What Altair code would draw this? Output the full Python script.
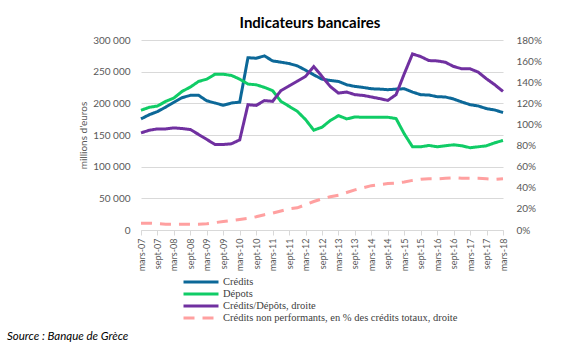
import altair as alt
import pandas as pd

quarters = [
    "mars-07", "juin-07", "sept-07", "déc-07",
    "mars-08", "juin-08", "sept-08", "déc-08",
    "mars-09", "juin-09", "sept-09", "déc-09",
    "mars-10", "juin-10", "sept-10", "déc-10",
    "mars-11", "juin-11", "sept-11", "déc-11",
    "mars-12", "juin-12", "sept-12", "déc-12",
    "mars-13", "juin-13", "sept-13", "déc-13",
    "mars-14", "juin-14", "sept-14", "déc-14",
    "mars-15", "juin-15", "sept-15", "déc-15",
    "mars-16", "juin-16", "sept-16", "déc-16",
    "mars-17", "juin-17", "sept-17", "déc-17",
    "mars-18",
]
tick_labels = [q for q in quarters if q.startswith("mars") or q.startswith("sept")]

# millions d'euros
credits = [175400, 182000, 187000, 194000, 201600, 209000, 212600, 212600,
           204000, 200500, 197000, 200500, 202000, 272000, 271200, 274900,
           267000, 265000, 262800, 259200, 252400, 245000, 238200, 236100,
           234600, 229300, 226700, 225100, 223000, 222500, 221500, 222500,
           223000, 217800, 213600, 213100, 210500, 210000, 206800, 202100,
           197900, 195800, 191600, 189500, 185400]
depots = [189000, 193700, 195800, 203000, 208400, 218900, 225700, 234600,
          238200, 246000, 246000, 244000, 238200, 230400, 229300, 225200,
          220000, 203200, 195300, 187400, 174400, 157600, 162300, 172800,
          180600, 175400, 178500, 178000, 178000, 178000, 178000, 176000,
          151800, 131400, 131400, 133500, 131400, 133000, 134500, 133000,
          129900, 131400, 133000, 137700, 141400]
# %
ratio = [92.0, 94.5, 95.8, 95.8, 96.7, 96.1, 95.2, 90.5,
         85.8, 81.0, 81.0, 81.7, 85.4, 118.7, 118.0, 122.6,
         121.9, 132.0, 136.5, 141.0, 145.5, 154.9, 145.5, 136.0,
         129.7, 130.7, 128.2, 127.5, 126.0, 124.5, 122.8, 128.2,
         148.0, 166.8, 164.3, 160.5, 160.2, 158.9, 154.9, 152.7,
         152.7, 149.5, 143.2, 137.6, 131.3]
npl = [6.5, 6.5, 6.0, 5.5, 5.5, 5.5, 5.5, 5.5,
       6.0, 7.0, 8.0, 9.0, 10.0, 11.0, 12.5, 14.5,
       16.0, 18.0, 20.0, 21.0, 24.0, 27.0, 29.5, 31.5,
       33.0, 35.5, 38.0, 40.0, 42.0, 43.0, 44.0, 44.5,
       45.5, 47.0, 48.0, 48.5, 48.5, 49.0, 49.5, 49.0,
       49.0, 49.0, 48.5, 48.0, 48.5]

series_names = [
    "Crédits",
    "Dépots",
    "Crédits/Dépôts, droite",
    "Crédits non performants, en % des crédits totaux, droite",
]
colors = ["#0c6898", "#10cc66", "#7030a0", "#ffa0a0"]
dashes = [[1, 0], [1, 0], [1, 0], [11, 8]]
source_text = "Source : Banque de Grèce"

rows = []
for name, vals in zip(series_names, [credits, depots, ratio, npl]):
    for q, v in zip(quarters, vals):
        rows.append({"q": q, "s": name, "v": v})
df = pd.DataFrame(rows)

x_enc = alt.X(
    "q:O",
    sort=quarters,
    scale=alt.Scale(type="point", padding=0),
    title=None,
    axis=alt.Axis(
        values=tick_labels,
        labelAngle=-90,
        labelFontSize=9,
        labelPadding=3,
        ticks=True,
        tickSize=5,
        tickColor="#d9d9d9",
        domain=True,
        domainColor="#d9d9d9",
        grid=False,
    ),
)
color_enc = alt.Color("s:N", title=None,
                      scale=alt.Scale(domain=series_names, range=colors))
dash_enc = alt.StrokeDash("s:N", title=None,
                          scale=alt.Scale(domain=series_names, range=dashes))

left = alt.Chart(df).transform_filter(
    alt.FieldOneOfPredicate(field="s", oneOf=series_names[:2])
).mark_line(strokeWidth=3).encode(
    x=x_enc,
    y=alt.Y(
        "v:Q",
        scale=alt.Scale(domain=[0, 300000], nice=False),
        title="millions d'euros",
        axis=alt.Axis(
            values=[0, 50000, 100000, 150000, 200000, 250000, 300000],
            labelExpr="replace(format(datum.value, ','), ',', ' ')",
            grid=True,
            ticks=False,
            domain=False,
            labelPadding=11,
            titlePadding=4,
        ),
    ),
    color=color_enc,
    strokeDash=dash_enc,
)

right = alt.Chart(df).transform_filter(
    alt.FieldOneOfPredicate(field="s", oneOf=series_names[2:])
).mark_line(strokeWidth=3).encode(
    x=x_enc,
    y=alt.Y(
        "v:Q",
        scale=alt.Scale(domain=[0, 180], nice=False),
        title=None,
        axis=alt.Axis(
            orient="right",
            values=[0, 20, 40, 60, 80, 100, 120, 140, 160, 180],
            labelExpr="datum.value + '%'",
            grid=False,
            ticks=False,
            domain=False,
            labelPadding=13,
        ),
    ),
    color=color_enc,
    strokeDash=dash_enc,
)

source = alt.Chart(pd.DataFrame({"t": [source_text]})).mark_text(
    align="left", baseline="alphabetic", font="Lato", fontSize=11.5,
    fontStyle="italic", color="#000000"
).encode(text="t:N", x=alt.value(-134), y=alt.value(300))

chart = alt.layer(left, right, source).resolve_scale(y="independent").properties(
    width=362,
    height=190,
    autosize=alt.AutoSizeParams(type="none"),
    padding={"left": 141, "top": 40, "right": 62, "bottom": 122},
    title=alt.TitleParams(
        "Indicateurs bancaires", font="Lato", fontSize=15, fontWeight="bold",
        color="#000000", anchor="middle", dx=-12, offset=4,
    ),
).configure_view(stroke=None).configure_axis(
    labelFont="Lato", labelColor="#595959", labelFontSize=10,
    titleFont="Lato", titleColor="#595959", titleFontSize=10,
    titleFontWeight="normal", gridColor="#d9d9d9", gridWidth=1,
).configure_legend(
    orient="none", legendX=41, legendY=236,
    labelFont="Liberation Serif", labelFontSize=10.5, labelColor="#404040",
    symbolType="stroke", symbolSize=1225, symbolStrokeWidth=3,
    clipHeight=12, labelOffset=3, rowPadding=0, padding=0, labelLimit=400,
)

chart.save("out.html", embed_options={"renderer": "svg", "actions": False})
